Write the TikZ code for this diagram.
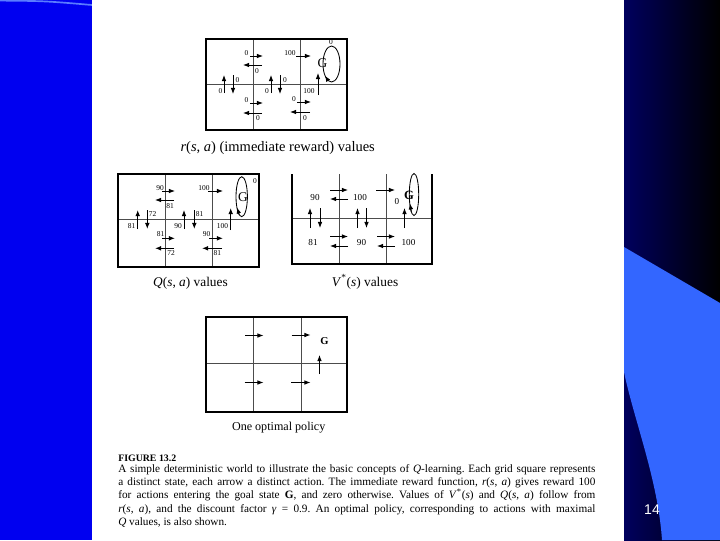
\documentclass[tikz,border=0pt]{standalone}
\usepackage{fontspec}
\setmainfont{Liberation Serif}
\newfontfamily\slidefont{Liberation Sans}
\usetikzlibrary{arrows.meta}
\definecolor{clrSide}{HTML}{0000F0}
\definecolor{clrEdge}{HTML}{5A7CFF}
\definecolor{clrNavy}{HTML}{00005E}
\definecolor{clrWave}{HTML}{3366FF}
\frenchspacing

\begin{document}
\begin{tikzpicture}[x=0.025cm, y=-0.025cm,
    frame/.style={draw=black, line width=0.8pt},
    cell/.style={draw=black!70, line width=0.5pt},
    act/.style={-{Latex[length=4.3pt, width=3.3pt]}, line width=0.7pt},
    loopline/.style={line width=0.6pt},
    val/.style={font=\fontsize{5.3}{6}\selectfont, inner sep=0.5pt},
    bigval/.style={font=\fontsize{6.5}{8}\selectfont, inner sep=0.5pt},
    goal/.style={font=\fontsize{9.5}{11}\selectfont, inner sep=0pt},
    lbl/.style={font=\fontsize{9.5}{11}\selectfont, inner sep=0pt},
]
\useasboundingbox (0,0) rectangle (720,540);

% slide background
\fill[clrSide] (0,0) rectangle (92,540);
\draw[clrEdge, line width=1.2pt] (0,0.6) .. controls (45,1) .. (92,5);
\fill[white] (92,0) rectangle (624,540);
\shade[left color=clrNavy, right color=black] (624,0) rectangle (720,540);
\fill[clrWave] (624,247) -- (720,303) -- (720,540) -- (662,540) .. controls (658,480) and (634,420) .. (624,372) -- cycle;
\node[text=white, font=\slidefont\fontsize{10}{12}\selectfont, inner sep=0pt] (pgno) at (652,510) {14};

% r(s,a) grid
\draw[cell] (253,39) -- (253,130) (300,39) -- (300,130) (206,84) -- (347,84);
\draw[frame] (206,39) rectangle (347,130);
\draw[act] (250,56) -- (263,56);
\draw[act] (262,65) -- (243,65);
\node[val] (r1) at (246.5,53) {0};
\node[val] (r2) at (257,71.5) {0};
\draw[act] (296,56) -- (311,56);
\node[val] (r3) at (290,53) {100};
\draw[loopline] (331.5,64) ellipse [x radius=0.2125cm, y radius=0.45cm];
\draw[act] (327.9,80.3) -- (325,75.6);
\node[val] (r4) at (331,42) {0};
\node[goal] (rg) at (322.5,63.5) {G};
\draw[act] (224,93) -- (224,75);
\draw[act] (233,75) -- (233,94);
\node[val] (r5) at (220.5,91) {0};
\node[val] (r6) at (237.5,80) {0};
\draw[act] (271,93) -- (271,75);
\draw[act] (280,75) -- (280,94);
\node[val] (r7) at (267,91) {0};
\node[val] (r8) at (285,80) {0};
\draw[act] (318,95) -- (318,73);
\node[val] (r9) at (309,91) {100};
\draw[act] (250,103) -- (263,103);
\draw[act] (262,113) -- (243,113);
\node[val] (r10) at (246.5,100) {0};
\node[val] (r11) at (258,118.5) {0};
\draw[act] (297,102) -- (311,102);
\draw[act] (310,112) -- (290,112);
\node[val] (r12) at (294,99) {0};
\node[val] (r13) at (305,118.5) {0};
\node[lbl, font=\fontsize{10.3}{12}\selectfont] (rcap) at (277.7,147.6) {\textit{r}(\textit{s}, \textit{a}) (immediate reward) values};

% Q(s,a) grid
\draw[cell] (165,174) -- (165,267) (212,174) -- (212,267) (118,219) -- (259,219);
\draw[frame] (118,174) rectangle (259,267);
\draw[act] (162,191) -- (175,191);
\draw[act] (174,200) -- (155,200);
\node[val] (q1) at (160,188) {90};
\node[val] (q2) at (170,206) {81};
\draw[act] (208,191) -- (223,191);
\node[val] (q3) at (204,188) {100};
\draw[loopline] (241.7,196.7) ellipse [x radius=0.1425cm, y radius=0.5cm];
\draw[act] (239.3,214.8) -- (237,207.5);
\node[val] (q4) at (255,181) {0};
\node[goal] (qg) at (243,197) {G};
\draw[act] (137.7,229) -- (137.7,210);
\draw[act] (147.3,210) -- (147.3,229);
\node[val] (q5) at (131.5,226.5) {81};
\node[val] (q6) at (152.7,214) {72};
\draw[act] (184,229) -- (184,210);
\draw[act] (194.3,210) -- (194.3,229);
\node[val] (q7) at (178,226.5) {90};
\node[val] (q8) at (199.5,214) {81};
\draw[act] (230.7,230) -- (230.7,208);
\node[val] (q9) at (222.5,226.5) {100};
\draw[act] (162,238.3) -- (175,238.3);
\draw[act] (174,248.3) -- (155,248.3);
\node[val] (q10) at (160.5,234.5) {81};
\draw[act] (209,238.3) -- (223,238.3);
\draw[act] (222,248.3) -- (202,248.3);
\node[val] (q11) at (171,253) {72};
\node[val] (q12) at (206.7,234.5) {90};
\node[val] (q13) at (217.3,253) {81};
\node[lbl] (qcap) at (190.5,283.4) {\textit{Q}(\textit{s}, \textit{a}) values};

% V*(s) grid
\draw[cell] (339,174) -- (339,264) (386,174) -- (386,264) (292,218) -- (432,218);
\draw[frame] (292,174) -- (292,264) -- (432,264) -- (432,174);
\node[bigval] (v1) at (315,197) {90};
\node[bigval] (v2) at (360,197) {100};
\node[bigval] (v3) at (397,201) {0};
\node[bigval] (v4) at (313,242.5) {81};
\node[bigval] (v5) at (361.5,242.5) {90};
\node[bigval] (v6) at (408.5,242.5) {100};
\draw[act] (330,190) -- (348,190);
\draw[act] (348,199) -- (330,199);
\draw[act] (376,190) -- (395,190);
\draw[loopline] (414,194.5) ellipse [x radius=0.1175cm, y radius=0.525cm];
\draw[act] (411.3,211.7) -- (409.9,203.4);
\node[goal, font=\fontsize{9}{11}\selectfont\bfseries] (vg) at (409,195) {G};
\draw[act] (310,228) -- (310,208);
\draw[act] (320,208) -- (320,228);
\draw[act] (357.5,228) -- (357.5,208);
\draw[act] (366.5,208) -- (366.5,228);
\draw[act] (404.5,228) -- (404.5,208);
\draw[act] (330,236.5) -- (348,236.5);
\draw[act] (348,246) -- (330,246);
\draw[act] (377,236.5) -- (395,236.5);
\draw[act] (395,246) -- (377,246);
\node[lbl] (vcap) at (365,282) {\textit{V}\textsuperscript{*}(\textit{s}) values};

% optimal policy grid
\draw[cell] (253,317) -- (253,412) (301,317) -- (301,412) (206,363) -- (347,363);
\draw[frame] (206,317) rectangle (347,412);
\draw[act] (245,335.5) -- (263.5,335.5);
\draw[act] (291.5,335) -- (310.5,335);
\draw[act] (319.5,374) -- (319.5,355);
\draw[act] (244.5,382.5) -- (263.5,382.5);
\draw[act] (291,382.5) -- (310.5,382.5);
\node[goal, font=\fontsize{7.5}{9}\selectfont\bfseries] (pg) at (324.5,341) {G};
\node[lbl, font=\fontsize{8.6}{10}\selectfont] (pcap) at (278.7,427.6) {One optimal policy};

% figure caption
\node[anchor=west, inner sep=0pt, font=\fontsize{7}{8}\selectfont\bfseries] (fignum) at (118,458) {FIGURE 13.2};
\node[anchor=north west, inner sep=0pt, text width=11.925cm, align=justify,
      font=\fontsize{8}{9.5}\selectfont] (figtext) at (118,464)
  {A simple deterministic world to illustrate the basic concepts of \textit{Q}-learning. Each grid square represents\linebreak
   a distinct state, each arrow a distinct action. The immediate reward function, \textit{r}(\textit{s}, \textit{a}) gives reward 100\linebreak
   for actions entering the goal state \textbf{G}, and zero otherwise. Values of \textit{V}\textsuperscript{*}(\textit{s}) and \textit{Q}(\textit{s}, \textit{a}) follow from\linebreak
   \textit{r}(\textit{s}, \textit{a}), and the discount factor \textit{γ} = 0.9. An optimal policy, corresponding to actions with maximal\linebreak
   \textit{Q} values, is also shown.};

\end{tikzpicture}
\end{document}
